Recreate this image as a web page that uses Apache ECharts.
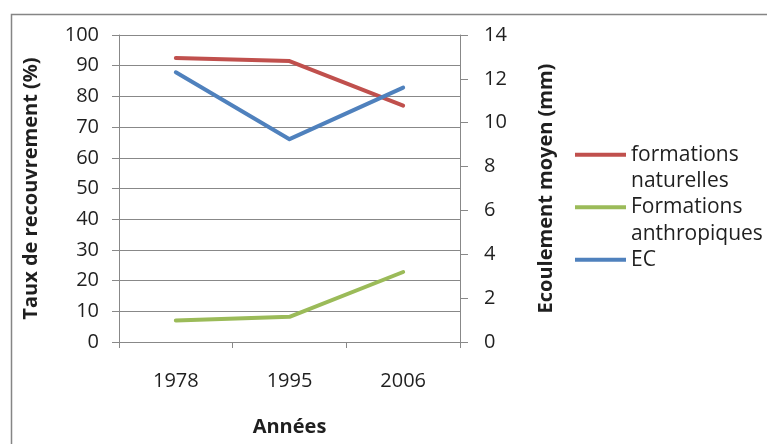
<!DOCTYPE html>
<html><head><meta charset="utf-8">
<script src="https://cdn.jsdelivr.net/npm/echarts@6/dist/echarts.min.js"></script>
<style>html,body{margin:0;padding:0;background:#fff}#c{width:767px;height:444px}</style>
</head><body><div id="c"></div>
<script>
const years = ['1978', '1995', '2006'];
const naturelles = [92.5, 91.5, 77];
const anthropiques = [7, 8.2, 22.8];
const ec = [12.3, 9.25, 11.6];
const seriesNames = ['formations naturelles', 'Formations anthropiques', 'EC'];
const legendLabels = {
  'formations naturelles': '\nformations\nnaturelles',
  'Formations anthropiques': '\nFormations\nanthropiques',
  'EC': '\nEC\n'
};
const FONT = 'Open Sans';
const TXT = '#1f1f1f';
const GRAY = '#888888';
const chart = echarts.init(document.getElementById('c'), null, {renderer: 'canvas'});
chart.setOption({
  animation: false,
  backgroundColor: '#fff',
  textStyle: {fontFamily: FONT},
  graphic: [{
    type: 'rect', left: 9, top: 12, silent: true,
    shape: {width: 800, height: 480},
    style: {fill: 'none', stroke: '#858585', lineWidth: 1.5}
  }],
  grid: {left: 119, right: 307, top: 35, bottom: 102, containLabel: false},
  legend: {
    orient: 'vertical', left: 570, top: 110,
    icon: 'rect', itemWidth: 51, itemHeight: 4, itemGap: -27,
    data: seriesNames,
    formatter: n => legendLabels[n],
    textStyle: {fontFamily: FONT, fontSize: 21, color: TXT, lineHeight: 26.5}
  },
  xAxis: {
    type: 'category', data: years, boundaryGap: true,
    name: 'Années', nameLocation: 'middle', nameGap: 75,
    nameTextStyle: {fontFamily: FONT, fontSize: 20, fontWeight: 'bold', color: TXT},
    axisLine: {lineStyle: {color: GRAY, width: 1}},
    axisTick: {show: true, length: 6, inside: false, lineStyle: {color: GRAY}},
    axisLabel: {fontFamily: FONT, fontSize: 20, color: TXT, margin: 29},
    splitLine: {show: false}
  },
  yAxis: [{
    type: 'value', min: 0, max: 100, interval: 10, position: 'left',
    name: 'Taux de recouvrement (%)', nameLocation: 'middle', nameGap: 78, nameRotate: 90,
    nameTextStyle: {fontFamily: FONT, fontSize: 20, fontWeight: 'bold', color: TXT},
    axisLine: {show: true, lineStyle: {color: GRAY, width: 1}},
    axisTick: {show: true, length: 7, lineStyle: {color: GRAY}},
    axisLabel: {fontFamily: FONT, fontSize: 20, color: TXT, margin: 20},
    splitLine: {show: true, lineStyle: {color: GRAY, width: 1}}
  }, {
    type: 'value', min: 0, max: 14, interval: 2, position: 'right',
    name: 'Ecoulement moyen (mm)', nameLocation: 'middle', nameGap: 76, nameRotate: 90,
    nameTextStyle: {fontFamily: FONT, fontSize: 20, fontWeight: 'bold', color: TXT},
    axisLine: {show: true, lineStyle: {color: GRAY, width: 1}},
    axisTick: {show: true, length: 8, lineStyle: {color: GRAY}},
    axisLabel: {fontFamily: FONT, fontSize: 20, color: TXT, margin: 24},
    splitLine: {show: false}
  }],
  series: [{
    name: seriesNames[0], type: 'line', data: naturelles, yAxisIndex: 0,
    showSymbol: false, symbol: 'none', color: '#C0504D',
    lineStyle: {width: 4, color: '#C0504D', cap: 'round', join: 'round'}
  }, {
    name: seriesNames[1], type: 'line', data: anthropiques, yAxisIndex: 0,
    showSymbol: false, symbol: 'none', color: '#9BBB59',
    lineStyle: {width: 4, color: '#9BBB59', cap: 'round', join: 'round'}
  }, {
    name: seriesNames[2], type: 'line', data: ec, yAxisIndex: 1,
    showSymbol: false, symbol: 'none', color: '#4F81BD',
    lineStyle: {width: 4, color: '#4F81BD', cap: 'round', join: 'round'}
  }]
});
</script></body></html>
